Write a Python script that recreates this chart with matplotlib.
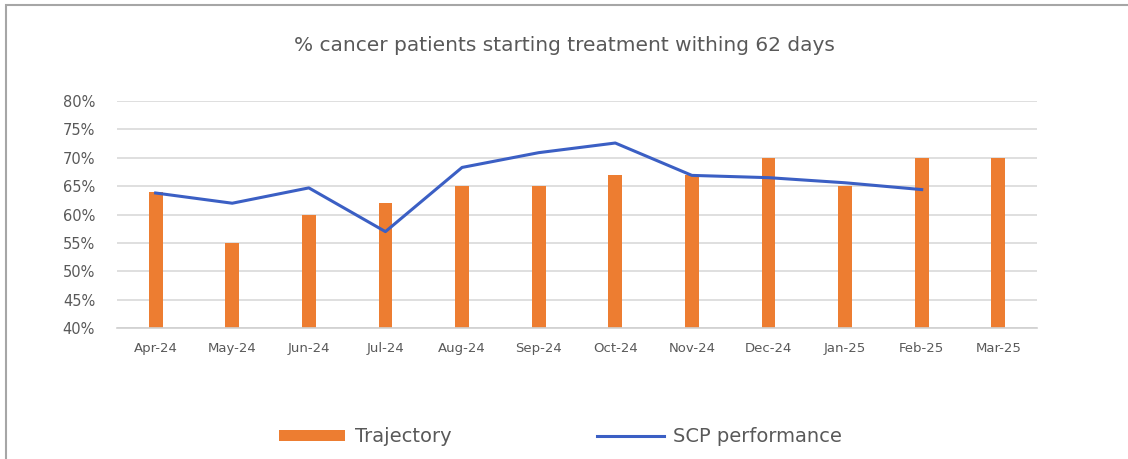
import matplotlib.pyplot as plt
from matplotlib.patches import Rectangle
from matplotlib.ticker import FuncFormatter

months = ['Apr-24', 'May-24', 'Jun-24', 'Jul-24', 'Aug-24', 'Sep-24',
          'Oct-24', 'Nov-24', 'Dec-24', 'Jan-25', 'Feb-25', 'Mar-25']
trajectory = [64, 55, 60, 62, 65, 65, 67, 67, 70, 65, 70, 70]
scp = [63.8, 62.0, 64.7, 57.0, 68.3, 70.9, 72.6, 66.9, 66.5, 65.6, 64.4]

orange = '#ED7D31'
blue = '#3B5FC4'
grey_text = '#595959'

fig = plt.figure(figsize=(11.28, 4.59), dpi=100)
ax = fig.add_axes([0.104, 0.285, 0.815, 0.495])

x = list(range(len(months)))
bars = ax.bar(x, trajectory, width=0.18, color=orange, label='Trajectory', zorder=2)
line, = ax.plot(x[:len(scp)], scp, color=blue, lw=2.2, label='SCP performance', zorder=3)

ax.set_ylim(40, 80)
ax.set_xlim(-0.5, len(months) - 0.5)
ax.set_yticks(range(40, 81, 5))
ax.yaxis.set_major_formatter(FuncFormatter(lambda v, p: '%d%%' % v))
ax.set_xticks(x)
ax.set_xticklabels(months)
ax.tick_params(axis='both', length=0, colors=grey_text)
ax.tick_params(axis='x', pad=10, labelsize=9.5)
ax.tick_params(axis='y', pad=16, labelsize=10.5)
ax.grid(axis='y', color='#d9d9d9', lw=1.2, zorder=0)
for s in ['top', 'right', 'left']:
    ax.spines[s].set_visible(False)
ax.spines['bottom'].set_color('#d0d0d0')
ax.spines['bottom'].set_linewidth(1.2)

fig.text(0.5, 0.9, '% cancer patients starting treatment withing 62 days',
         ha='center', va='center', fontsize=14.5, color=grey_text)

leg = fig.legend([bars, line], ['Trajectory', 'SCP performance'],
                 loc='center', bbox_to_anchor=(0.497, 0.048), ncol=2, frameon=False,
                 fontsize=14, handlelength=3.4, handleheight=0.55,
                 columnspacing=7.5, handletextpad=0.5)
for t in leg.get_texts():
    t.set_color(grey_text)

# outer chart frame
fig.patches.append(Rectangle((0.005, -0.05), 1.2, 1.039, transform=fig.transFigure,
                             fill=False, edgecolor='#a6a6a6', lw=1.5))

fig.savefig('out.png', dpi=100)
